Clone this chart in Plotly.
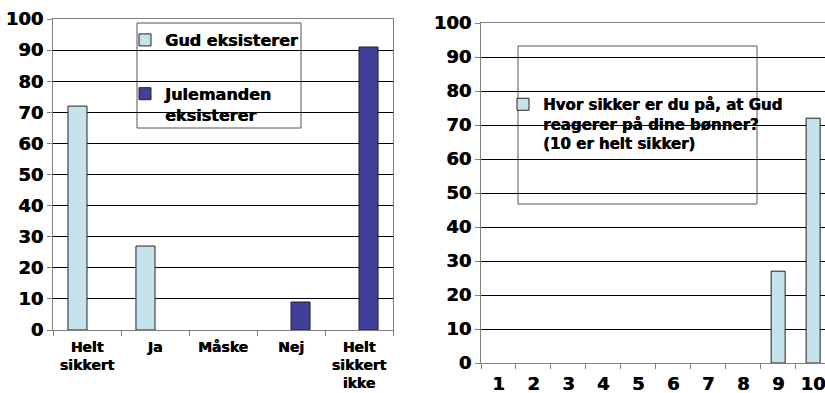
import plotly.graph_objects as go

# Survey answers (percent)
answers = ["Helt<br>sikkert", "Ja", "Måske", "Nej", "Helt<br>sikkert<br>ikke"]
gud_eksisterer = [72, 27, 0, 0, 0]
julemanden_eksisterer = [0, 0, 0, 9, 91]

scale = ["1", "2", "3", "4", "5", "6", "7", "8", "9", "10"]
gud_reagerer = [0, 0, 0, 0, 0, 0, 0, 0, 27, 72]

y_ticks = [0, 10, 20, 30, 40, 50, 60, 70, 80, 90, 100]

LIGHT = "#C6E2EA"
DARK = "#40409A"
OUTLINE = "#222222"
FONT = "DejaVu Sans"
HEAVY = "0.5px 0 0 #000"

W, H = 825, 393


def px_x(v):
    return v / W


def px_y(v):
    return 1 - v / H


def drawn(values):
    # empty answers get no bar at all (avoids an outline stub on the baseline)
    return [v if v else None for v in values]


def font(size):
    return dict(family=FONT, size=size, color="#000000", weight="bold", shadow=HEAVY)


fig = go.Figure()

fig.add_trace(go.Bar(
    x=answers, y=drawn(gud_eksisterer), name="Gud eksisterer",
    marker=dict(color=LIGHT, line=dict(color=OUTLINE, width=1)),
    width=0.28, offset=-0.28, xaxis="x", yaxis="y",
    legend="legend", legendgroup="a",
))
fig.add_trace(go.Bar(
    x=answers, y=drawn(julemanden_eksisterer), name="Julemanden<br>eksisterer",
    marker=dict(color=DARK, line=dict(color=OUTLINE, width=1)),
    width=0.28, offset=0.0, xaxis="x", yaxis="y",
    legend="legend", legendgroup="b",
))
fig.add_trace(go.Bar(
    x=scale, y=drawn(gud_reagerer),
    name="Hvor sikker er du på, at Gud<br>reagerer på dine bønner?<br>(10 er helt sikker)",
    marker=dict(color=LIGHT, line=dict(color=OUTLINE, width=1)),
    width=0.4, xaxis="x2", yaxis="y2",
    legend="legend2",
))

axis_common = dict(
    showline=True, linecolor="#808080", linewidth=1, mirror=True,
    fixedrange=True, automargin=False,
)
yaxis_common = dict(
    axis_common, range=[0, 100], tickvals=y_ticks,
    showgrid=True, gridcolor="#000000", gridwidth=1,
    ticks="outside", ticklen=5, tickcolor="#808080",
    tickfont=font(18),
    zeroline=False,
)
xaxis_common = dict(
    axis_common, type="category", showgrid=False,
    ticks="outside", ticklen=5, tickcolor="#808080", tickson="boundaries",
    tickangle=0,
)

fig.update_layout(
    width=W, height=H,
    margin=dict(l=0, r=0, t=0, b=0, autoexpand=False),
    paper_bgcolor="white", plot_bgcolor="white",
    barmode="group",
    xaxis=dict(xaxis_common, domain=[px_x(53), px_x(393)], range=[-0.5, 4.5],
               tickfont=font(14), ticklabelstandoff=4,
               categoryorder="array", categoryarray=answers),
    yaxis=dict(yaxis_common, domain=[px_y(330), px_y(19)], anchor="x"),
    xaxis2=dict(xaxis_common, domain=[px_x(481), 1.0], range=[-0.5, 9.34],
                anchor="y2", tickfont=font(18), ticklabelstandoff=4,
                categoryorder="array", categoryarray=scale),
    yaxis2=dict(yaxis_common, domain=[px_y(363), px_y(23)], anchor="x2"),
    legend=dict(
        x=px_x(125), y=px_y(23), xanchor="left", yanchor="top",
        bgcolor="rgba(0,0,0,0)", borderwidth=0,
        font=font(16),
        tracegroupgap=30, valign="top",
    ),
    legend2=dict(
        x=px_x(503), y=px_y(88), xanchor="left", yanchor="top",
        bgcolor="rgba(0,0,0,0)", borderwidth=0,
        font=font(15),
        valign="top",
    ),
    shapes=[
        dict(type="rect", xref="paper", yref="paper", layer="below",
             x0=px_x(137), x1=px_x(301), y0=px_y(128), y1=px_y(23),
             fillcolor="white", line=dict(color="#555555", width=1)),
        dict(type="rect", xref="paper", yref="paper", layer="below",
             x0=px_x(518), x1=px_x(757), y0=px_y(204), y1=px_y(46),
             fillcolor="white", line=dict(color="#555555", width=1)),
    ],
)

fig.write_html("out.html")
